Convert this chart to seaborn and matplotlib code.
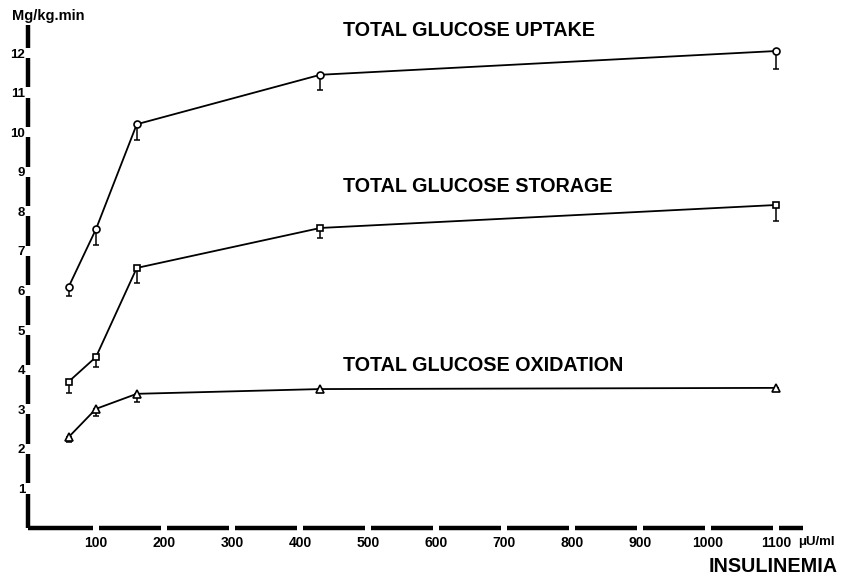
import numpy as np
import pandas as pd
import matplotlib
matplotlib.use("Agg")
import matplotlib.pyplot as plt
import seaborn as sns

# Insulinemia levels (µU/ml) and glucose metabolism (mg/kg.min), mean and SEM
insulin = [60, 100, 160, 430, 1100]
uptake = [6.1, 7.55, 10.2, 11.45, 12.05]
uptake_sem = [0.25, 0.4, 0.4, 0.38, 0.45]
storage = [3.7, 4.32, 6.57, 7.58, 8.16]
storage_sem = [0.28, 0.25, 0.38, 0.25, 0.4]
oxidation = [2.3, 3.01, 3.39, 3.51, 3.54]
oxidation_sem = [0.12, 0.18, 0.2, 0.0, 0.0]

series_names = ["TOTAL GLUCOSE UPTAKE", "TOTAL GLUCOSE STORAGE", "TOTAL GLUCOSE OXIDATION"]
x_ticks = [100, 200, 300, 400, 500, 600, 700, 800, 900, 1000, 1100]
y_ticks = [1, 2, 3, 4, 5, 6, 7, 8, 9, 10, 11, 12]

sns.set_theme(style="white")
plt.rcParams["font.family"] = ["Liberation Sans", "DejaVu Sans"]
plt.rcParams["font.weight"] = "bold"
for key in ["text.color", "xtick.color", "ytick.color", "axes.labelcolor"]:
    plt.rcParams[key] = "black"

frames = []
for name, vals, sem in zip(series_names, [uptake, storage, oxidation],
                           [uptake_sem, storage_sem, oxidation_sem]):
    frames.append(pd.DataFrame({"insulin": insulin, "value": vals,
                                "sem": sem, "series": name}))
df = pd.concat(frames, ignore_index=True)

fig = plt.figure(figsize=(8.51, 5.79), dpi=100)
ax = fig.add_axes([28 / 851, 51 / 579, 775 / 851, 502.7 / 579])

xmax, ymax = 1140, 12.7
ax.set_xlim(0, xmax)
ax.set_ylim(0, ymax)

styles = {
    "TOTAL GLUCOSE UPTAKE": ("o", 5.0),
    "TOTAL GLUCOSE STORAGE": ("s", 4.3),
    "TOTAL GLUCOSE OXIDATION": ("^", 6.0),
}

for name in series_names:
    sub = df[df["series"] == name]
    # one-sided (downward) SEM bars with a cap at the bottom
    ax.errorbar(sub["insulin"], sub["value"],
                yerr=[sub["sem"].values, np.zeros(len(sub))],
                fmt="none", ecolor="black", elinewidth=1.1, capsize=2.0,
                capthick=1.1, zorder=2)
    marker, ms = styles[name]
    sns.lineplot(data=sub, x="insulin", y="value", ax=ax, color="black",
                 linewidth=1.3, marker=marker, markersize=ms,
                 markerfacecolor="white", markeredgecolor="black",
                 markeredgewidth=1.2, legend=False, zorder=3)

# series labels
label_pos = {
    "TOTAL GLUCOSE UPTAKE": 12.57,
    "TOTAL GLUCOSE STORAGE": 8.62,
    "TOTAL GLUCOSE OXIDATION": 4.1,
}
for name, yv in label_pos.items():
    ax.text(463, yv, name, fontsize=14.2, fontweight="bold",
            ha="left", va="center", color="black")

# axes drawn as broken heavy strokes, interrupted at each tick
for s in ax.spines.values():
    s.set_visible(False)
ax.grid(False)

lw_axis = 3.2
ygap = 0.13
ybreaks = [0] + y_ticks + [ymax]
for lo, hi in zip(ybreaks[:-1], ybreaks[1:]):
    a = lo + (ygap if lo > 0 else 0)
    b = hi - (ygap if hi < ymax else 0)
    ax.plot([0, 0], [a, b], color="black", lw=lw_axis, solid_capstyle="butt",
            clip_on=False, zorder=4)

xgap = 4.5
xbreaks = [0] + x_ticks + [xmax]
for lo, hi in zip(xbreaks[:-1], xbreaks[1:]):
    a = lo + (xgap if lo > 0 else 0)
    b = hi - (xgap if hi < xmax else 0)
    ax.plot([a, b], [0, 0], color="black", lw=lw_axis, solid_capstyle="butt",
            clip_on=False, zorder=4)

ax.set_xticks(x_ticks)
ax.set_xticklabels([str(t) for t in x_ticks], fontsize=10, fontweight="bold")
ax.set_yticks(y_ticks)
ax.set_yticklabels([str(t) for t in y_ticks], fontsize=9.5, fontweight="bold")
ax.tick_params(axis="both", length=0)
ax.tick_params(axis="x", pad=6)
ax.tick_params(axis="y", pad=2)
ax.set_xlabel("")
ax.set_ylabel("")

# units and axis titles
fig.text(12 / 851, 1 - 16 / 579, "Mg/kg.min", fontsize=10.5, fontweight="bold",
         ha="left", va="center")
fig.text(798 / 851, 1 - 542 / 579, "μU/ml", fontsize=9.5, fontweight="bold",
         ha="left", va="center")
fig.text(838 / 851, 1 - 566 / 579, "INSULINEMIA", fontsize=14.2,
         fontweight="bold", ha="right", va="center")

fig.savefig("out.png", dpi=100, facecolor="white")
